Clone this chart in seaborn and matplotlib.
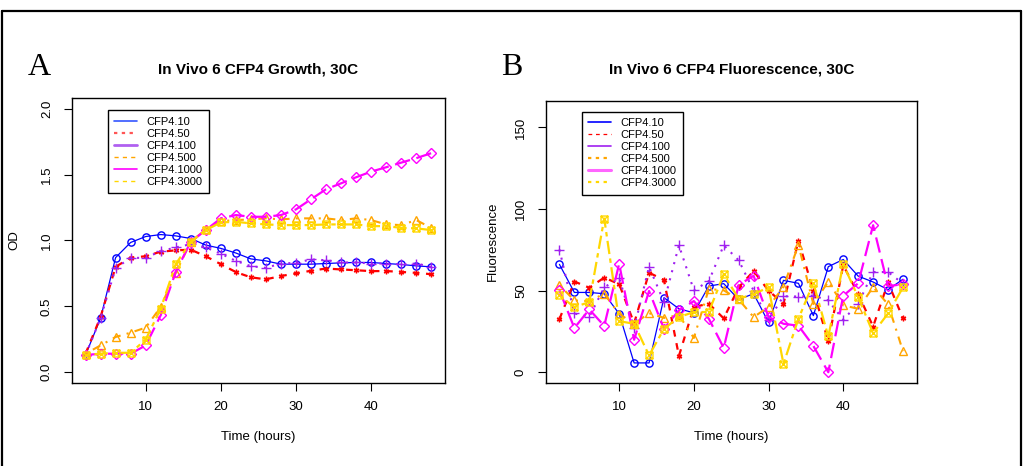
import matplotlib
matplotlib.use("Agg")
import matplotlib.pyplot as plt
from matplotlib.lines import Line2D
from matplotlib.path import Path
import seaborn as sns

# Sampling times (hours)
hours = list(range(2, 49, 2))
series_names = ["CFP4.10", "CFP4.50", "CFP4.100", "CFP4.500", "CFP4.1000", "CFP4.3000"]

# Growth (OD) per strain
od_cfp10 = [0.13, 0.41, 0.87, 0.985, 1.03, 1.045, 1.035, 1.015, 0.965, 0.94, 0.905, 0.86,
            0.845, 0.82, 0.82, 0.82, 0.825, 0.83, 0.833, 0.833, 0.825, 0.818, 0.807, 0.80]
od_cfp50 = [0.14, 0.42, 0.80, 0.87, 0.88, 0.915, 0.925, 0.93, 0.88, 0.82, 0.76, 0.72,
            0.705, 0.73, 0.75, 0.77, 0.787, 0.78, 0.774, 0.767, 0.768, 0.761, 0.754, 0.744]
od_cfp100 = [0.13, 0.41, 0.79, 0.868, 0.868, 0.919, 0.947, 0.972, 0.947, 0.90, 0.845, 0.805,
             0.792, 0.825, 0.83, 0.856, 0.85, 0.833, 0.833, 0.825, 0.825, 0.818, 0.825, 0.80]
od_cfp500 = [0.14, 0.203, 0.267, 0.30, 0.338, 0.495, 0.754, 0.99, 1.084, 1.147, 1.155, 1.16,
             1.168, 1.16, 1.168, 1.168, 1.168, 1.155, 1.168, 1.155, 1.122, 1.117, 1.155, 1.096]
od_cfp1000 = [0.13, 0.14, 0.14, 0.14, 0.203, 0.432, 0.761, 0.99, 1.079, 1.168, 1.193, 1.18,
              1.18, 1.193, 1.236, 1.313, 1.389, 1.434, 1.48, 1.523, 1.556, 1.591, 1.625, 1.663]
od_cfp3000 = [0.13, 0.14, 0.147, 0.147, 0.247, 0.482, 0.82, 0.99, 1.079, 1.137, 1.142, 1.13,
              1.122, 1.117, 1.117, 1.117, 1.122, 1.122, 1.122, 1.109, 1.109, 1.096, 1.092, 1.079]

# Fluorescence per strain
fl_cfp10 = [66.1, 48.9, 48.9, 48.1, 35.8, 5.7, 5.7, 45.7, 38.9, 36.4, 52.8, 54.3,
            44.6, 48.1, 30.5, 56.3, 54.5, 34.7, 64.7, 69.1, 58.9, 55.3, 50.6, 57.0]
fl_cfp50 = [32.5, 55.6, 51.8, 58.0, 54.0, 30.0, 61.0, 56.5, 10.0, 40.0, 42.0, 33.0,
            52.0, 62.0, 50.0, 42.0, 80.7, 50.0, 19.0, 65.5, 48.0, 28.0, 55.0, 33.0]
fl_cfp100 = [75.2, 36.0, 34.0, 52.0, 57.8, 27.0, 64.7, 43.0, 77.8, 50.2, 55.8, 77.8,
             68.6, 50.0, 32.0, 46.6, 46.4, 47.0, 44.0, 32.2, 42.0, 61.4, 61.4, 54.3]
fl_cfp500 = [53.4, 44.0, 43.6, 48.1, 35.8, 29.7, 36.2, 33.3, 35.0, 21.0, 51.0, 50.2,
             44.6, 33.8, 40.0, 52.4, 78.0, 41.8, 55.6, 41.0, 38.9, 52.2, 41.6, 12.9]
fl_cfp1000 = [50.2, 27.1, 38.5, 28.4, 66.5, 19.9, 49.8, 26.6, 38.0, 43.6, 32.8, 14.9,
              53.5, 59.1, 33.8, 29.7, 28.5, 16.1, 0.0, 46.9, 54.5, 90.1, 52.7, 54.0]
fl_cfp3000 = [47.1, 39.9, 43.0, 94.2, 31.3, 29.7, 10.3, 26.6, 33.8, 36.9, 36.9, 60.0,
              45.0, 47.9, 52.0, 5.1, 32.8, 54.7, 21.9, 66.1, 46.0, 24.0, 36.0, 52.0]

growth = [od_cfp10, od_cfp50, od_cfp100, od_cfp500, od_cfp1000, od_cfp3000]
fluor = [fl_cfp10, fl_cfp50, fl_cfp100, fl_cfp500, fl_cfp1000, fl_cfp3000]

sns.set_style("ticks", {"text.color": "black", "axes.labelcolor": "black",
                        "xtick.color": "black", "ytick.color": "black",
                        "axes.edgecolor": "black"})
plt.rcParams["font.family"] = ["Liberation Sans", "DejaVu Sans"]

# square with a cross inside (boxed x marker)
boxed_x = Path(
    [(-1, -1), (1, -1), (1, 1), (-1, 1), (-1, -1), (-1, -1), (1, 1), (-1, 1), (1, -1)],
    [Path.MOVETO, Path.LINETO, Path.LINETO, Path.LINETO, Path.CLOSEPOLY,
     Path.MOVETO, Path.LINETO, Path.MOVETO, Path.LINETO],
)

colors = ["#0000FF", "#FF0000", "#A020F0", "#FFA500", "#FF00FF", "#FFD700"]
styles = [
    dict(linestyle="-", linewidth=0.9, marker="o", markersize=5.2),
    dict(linestyle=(0, (3, 3)), linewidth=1.6, marker=(6, 2, 0), markersize=4),
    dict(linestyle=(0, (1, 3)), linewidth=1.5, marker="+", markersize=7),
    dict(linestyle=(0, (1, 3, 4, 3)), linewidth=1.5, marker="^", markersize=6),
    dict(linestyle=(0, (7, 3)), linewidth=1.6, marker="D", markersize=5),
    dict(linestyle=(0, (2, 2, 6, 2)), linewidth=1.6, marker=boxed_x, markersize=5),
]

fig = plt.figure(figsize=(10.29, 4.66), dpi=100)
ax_a = fig.add_axes([0.0697, 0.1788, 0.3628, 0.6103])
ax_b = fig.add_axes([0.5303, 0.1788, 0.3606, 0.6051])


def draw_panel(ax, data):
    for vals, col, st in zip(data, colors, styles):
        sns.lineplot(x=hours, y=vals, ax=ax, color=col, errorbar=None, sort=False,
                     markerfacecolor="none", markeredgecolor=col, markeredgewidth=1.0,
                     **st)


draw_panel(ax_a, growth)
draw_panel(ax_b, fluor)

for ax in (ax_a, ax_b):
    ax.set_xlim(0.16, 49.84)
    ax.set_xticks([10, 20, 30, 40])
    ax.tick_params(axis="both", length=5.5, width=0.8, pad=8, labelsize=9.5,
                   direction="out", color="black", labelcolor="black")
    for sp in ax.spines.values():
        sp.set_visible(True)
        sp.set_color("black")
        sp.set_linewidth(1.0)
    ax.set_xlabel("Time (hours)", fontsize=9.5, color="black")
    ax.xaxis.set_label_coords(0.5, -0.17)

ax_a.set_ylim(-0.08, 2.08)
ax_a.set_yticks([0.0, 0.5, 1.0, 1.5, 2.0])
ax_a.set_yticklabels(["0.0", "0.5", "1.0", "1.5", "2.0"], rotation=90, va="center")
ax_a.set_ylabel("OD", fontsize=9.5, color="black")
ax_a.yaxis.set_label_coords(-0.1385, 0.5)

ax_b.set_ylim(-6.4, 166.4)
ax_b.set_yticks([0, 50, 100, 150])
ax_b.set_yticklabels(["0", "50", "100", "150"], rotation=90, va="center")
ax_b.set_ylabel("Fluorescence", fontsize=9.5, color="black")
ax_b.yaxis.set_label_coords(-0.126, 0.5)

# legend keys
legend_keys_a = [
    dict(color="#3355FF", lw=1.2, ls="-"),
    dict(color="#FF5555", lw=1.6, ls=(0, (1.5, 2))),
    dict(color="#B060F0", lw=2.0, ls="-"),
    dict(color="#FFA500", lw=1.0, ls=(0, (3, 3))),
    dict(color="#FF00FF", lw=1.2, ls="-"),
    dict(color="#FFD700", lw=1.0, ls=(0, (3, 3))),
]
legend_keys_b = [
    dict(color="#0000FF", lw=1.2, ls="-"),
    dict(color="#FF0000", lw=0.9, ls=(0, (3, 3))),
    dict(color="#A020F0", lw=1.2, ls="-"),
    dict(color="#FFA500", lw=1.6, ls=(0, (1.5, 2))),
    dict(color="#FF66FF", lw=2.2, ls="-"),
    dict(color="#FFD700", lw=1.6, ls=(0, (1.5, 2))),
]


def add_legend(ax, keys, anchor):
    handles = [Line2D([], [], color=k["color"], lw=k["lw"], ls=k["ls"]) for k in keys]
    leg = ax.legend(handles, series_names, loc="upper left", bbox_to_anchor=anchor,
                    borderaxespad=0, frameon=True, fancybox=False, framealpha=1,
                    edgecolor="black", fontsize=8, handlelength=2.0, handletextpad=0.9,
                    labelspacing=0.18, borderpad=0.6, labelcolor="black")
    leg.get_frame().set_linewidth(1.0)


add_legend(ax_a, legend_keys_a, (0.0964, 0.959))
add_legend(ax_b, legend_keys_b, (0.097, 0.961))

# titles and panel letters
fig.text(0.2511, 1 - 73 / 466, "In Vivo 6 CFP4 Growth, 30C", ha="center", va="baseline",
         fontsize=11, fontweight="bold", color="black")
fig.text(0.7106, 1 - 74 / 466, "In Vivo 6 CFP4 Fluorescence, 30C", ha="center",
         va="baseline", fontsize=11, fontweight="bold", color="black")
fig.text(39 / 1029, 1 - 75 / 466, "A", ha="center", va="baseline", fontsize=23,
         family=["Liberation Serif", "DejaVu Serif"], color="black")
fig.text(512 / 1029, 1 - 75 / 466, "B", ha="center", va="baseline", fontsize=23,
         family=["Liberation Serif", "DejaVu Serif"], color="black")

# outer frame (top, left, right edges)
frame_kw = dict(transform=fig.transFigure, color="black", lw=1.6)
fig.add_artist(Line2D([1.5 / 1029, 1020.5 / 1029], [1 - 10.5 / 466, 1 - 10.5 / 466], **frame_kw))
fig.add_artist(Line2D([1.5 / 1029, 1.5 / 1029], [0, 1 - 10.5 / 466], **frame_kw))
fig.add_artist(Line2D([1020.5 / 1029, 1020.5 / 1029], [0, 1 - 10.5 / 466], **frame_kw))

fig.savefig("out.png", dpi=100)
